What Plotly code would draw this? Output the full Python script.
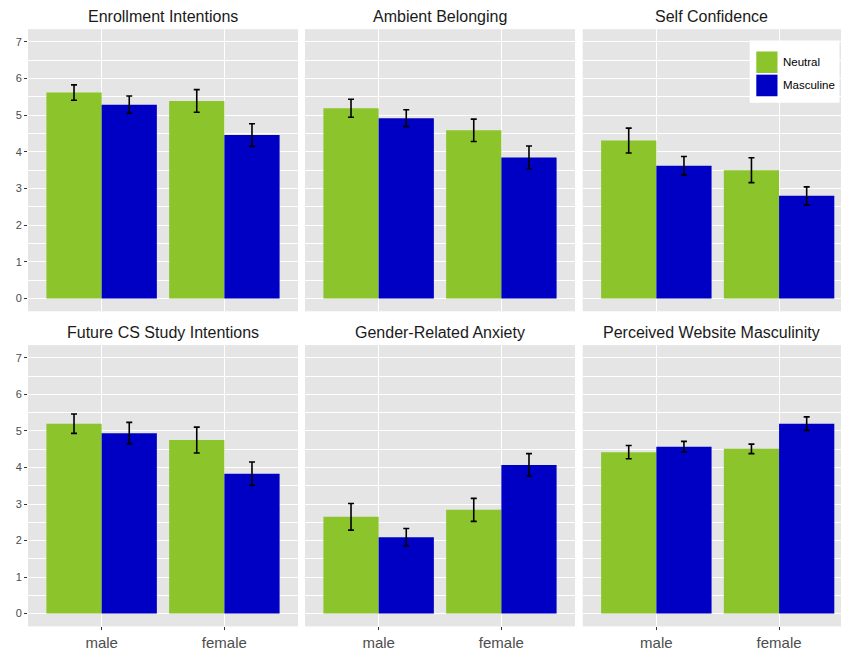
import plotly.graph_objects as go

# Study measures (one facet each) and the two grouping factors
measures = [
    "Enrollment Intentions", "Ambient Belonging", "Self Confidence",
    "Future CS Study Intentions", "Gender-Related Anxiety", "Perceived Website Masculinity",
]
genders = ["male", "female"]
conditions = ["Neutral", "Masculine"]

# Mean ratings per measure for [male, female]
neutral_mean = [
    [5.62, 5.39], [5.19, 4.59], [4.31, 3.50],
    [5.20, 4.75], [2.65, 2.84], [4.42, 4.51],
]
masculine_mean = [
    [5.29, 4.46], [4.92, 3.85], [3.62, 2.80],
    [4.94, 3.83], [2.09, 4.07], [4.57, 5.20],
]
# Standard errors per measure for [male, female]
neutral_se = [
    [0.21, 0.31], [0.245, 0.305], [0.34, 0.34],
    [0.265, 0.355], [0.365, 0.315], [0.18, 0.13],
]
masculine_se = [
    [0.235, 0.31], [0.23, 0.31], [0.255, 0.245],
    [0.295, 0.32], [0.24, 0.31], [0.145, 0.185],
]

y_ticks = [0, 1, 2, 3, 4, 5, 6, 7]

GREEN = "#8CC42B"
BLUE = "#0000C4"
PANEL_BG = "#E5E5E5"
FONT = "Arial, Liberation Sans, Helvetica, sans-serif"

W, H = 841, 651


def px_x(x):
    return x / W


def px_y(y):
    return 1 - y / H


# panel pixel boxes (left, right) and (top, bottom)
col_px = [(28.0, 298.0), (305.0, 575.0), (582.7, 841.0)]
row_px = [(29.3, 312.7), (346.7, 629.3)]
unit_px = (298.0 - 28.0) / 2.2  # pixels per category step

fig = go.Figure()
layout = {}
annotations = []

for i, name in enumerate(measures):
    r, c = divmod(i, 3)
    idx = i + 1
    xa = "x" if idx == 1 else f"x{idx}"
    ya = "y" if idx == 1 else f"y{idx}"
    for cond, means, ses, color in (
        ("Neutral", neutral_mean[i], neutral_se[i], GREEN),
        ("Masculine", masculine_mean[i], masculine_se[i], BLUE),
    ):
        fig.add_trace(go.Bar(
            x=genders, y=means, name=cond, showlegend=False,
            marker=dict(color=color, line=dict(width=0)),
            error_y=dict(type="data", array=ses, visible=True,
                         color="black", thickness=1.6, width=3),
            xaxis=xa, yaxis=ya,
        ))

    l, rr = col_px[c]
    t, b = row_px[r]
    x_hi = -0.6 + (rr - l) / unit_px
    layout[f"xaxis{'' if idx == 1 else idx}"] = dict(
        domain=[px_x(l), px_x(rr)], anchor=ya,
        type="category", categoryorder="array", categoryarray=genders,
        range=[-0.6, x_hi],
        showgrid=True, gridcolor="white", gridwidth=1.1,
        zeroline=False, showline=False,
        ticks="outside" if r == 1 else "", ticklen=3, tickcolor="#333333",
        showticklabels=(r == 1),
        tickfont=dict(family=FONT, size=15, color="#4D4D4D"),
        fixedrange=True,
    )
    layout[f"yaxis{'' if idx == 1 else idx}"] = dict(
        domain=[px_y(b), px_y(t)], anchor=xa,
        range=[-0.35, 7.35],
        tickvals=y_ticks,
        showgrid=True, gridcolor="white", gridwidth=1.1,
        minor=dict(dtick=0.5, tick0=0, showgrid=True, gridcolor="white",
                   gridwidth=0.55, ticks=""),
        zeroline=False, showline=False,
        ticks="outside" if c == 0 else "", ticklen=3, tickcolor="#333333",
        showticklabels=(c == 0),
        tickfont=dict(family=FONT, size=11, color="#4D4D4D"),
        fixedrange=True,
    )
    # facet title
    annotations.append(dict(
        text=name, xref="paper", yref="paper",
        x=px_x((l + min(rr, l + 270)) / 2), y=px_y(17 if r == 0 else 334),
        xanchor="center", yanchor="middle", showarrow=False,
        font=dict(family=FONT, size=16, color="#1A1A1A"),
    ))

# legend drawn in the top-right panel
shapes = [
    dict(type="rect", xref="paper", yref="paper",
         x0=px_x(749.7), x1=px_x(839.5), y0=px_y(103.3), y1=px_y(40.7),
         fillcolor="white", line=dict(width=0), layer="above"),
]
key_rows = [(51.7, 73.3), (75.0, 96.7)]
for (k_top, k_bot), cond, color in zip(key_rows, conditions, (GREEN, BLUE)):
    shapes.append(dict(type="rect", xref="paper", yref="paper",
                       x0=px_x(756.3), x1=px_x(777.5), y0=px_y(k_bot), y1=px_y(k_top),
                       fillcolor=color, line=dict(width=0), layer="above"))
    annotations.append(dict(
        text=cond, xref="paper", yref="paper",
        x=px_x(781), y=px_y((k_top + k_bot) / 2),
        xanchor="left", yanchor="middle", showarrow=False,
        font=dict(family=FONT, size=11.5, color="#000000"),
    ))

fig.update_layout(
    width=W, height=H,
    margin=dict(l=0, r=0, t=0, b=0),
    paper_bgcolor="white", plot_bgcolor=PANEL_BG,
    barmode="group", bargap=0.1, bargroupgap=0,
    annotations=annotations, shapes=shapes,
    font=dict(family=FONT),
    showlegend=False,
    **layout,
)

fig.write_html("out.html")
